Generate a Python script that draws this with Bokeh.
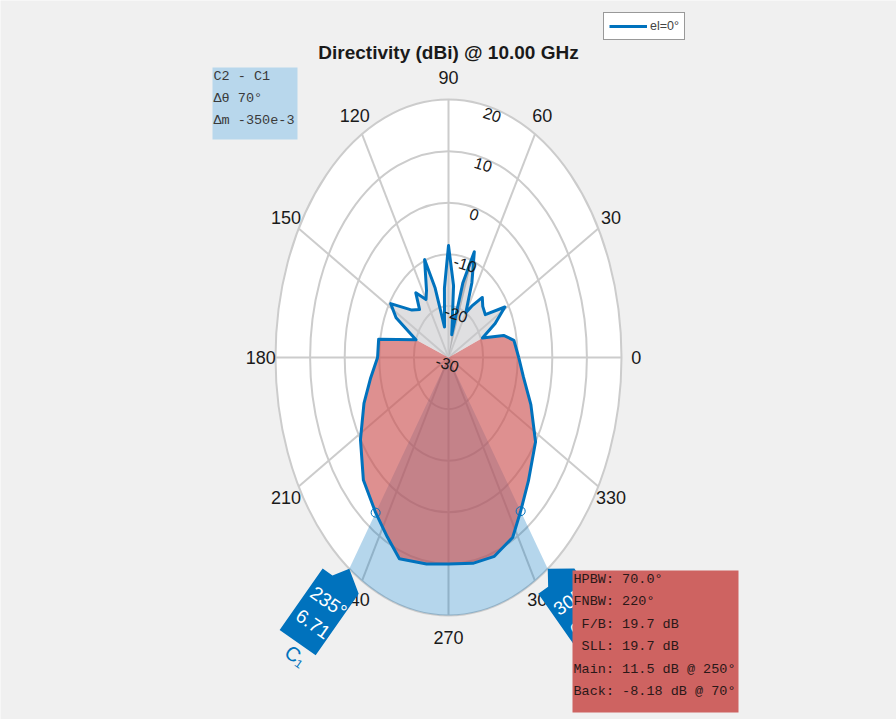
import numpy as np
from bokeh.plotting import figure
from bokeh.models import Label, Legend, LegendItem
from bokeh.core.properties import value
from bokeh.embed import file_html
from bokeh.resources import INLINE

# ---------------- data ----------------
title_text = "Directivity (dBi) @ 10.00 GHz"
series_label = "el=0°"
angle_ticks = [0, 30, 60, 90, 120, 150, 180, 210, 240, 270, 300, 330]
mag_ticks = [-30, -20, -10, 0, 10, 20]
r_min, r_max = -30, 20

pattern_angle = [0, 10, 15, 21, 26, 31, 38, 45, 50, 56, 60, 65, 70, 74, 78, 84, 90,
                 95, 101, 106, 110, 116, 120, 127, 132, 139, 148, 153, 160, 170, 180,
                 190, 200, 212, 224, 235, 243, 250, 261, 270, 280, 289, 298, 305, 314,
                 327, 339, 350, 360]
pattern_db = [-9.7, -10.8, -13.5, -19.5, -15.0, -11.0, -16.5, -16.0, -14.8, -18.0, -20.0,
              -14.0, -8.18, -15.0, -25.5, -16.0, -8.3, -16.5, -24.0, -16.0, -9.8, -15.5,
              -17.0, -14.3, -17.5, -16.0, -10.3, -13.0, -20.0, -9.5, -9.5, -7.15, -4.0,
              0.0, 4.2, 6.71, 9.0, 11.5, 10.5, 10.0, 10.5, 10.75, 9.5, 6.36, 3.25, 0.0,
              -4.5, -8.0, -9.7]

main_lobe_nulls = [160, 21]
back_lobe_span = [70, 78]
hpbw_span = [235, 305]
cursor_angles = [235, 305]
cursor_mags = [6.71, 6.36]
cursor_names = ["C\u2081", "C\u2082"]
delta_lines = ["C2 - C1", "\u0394\u03b8 70\u00b0", "\u0394m -350e-3"]
metric_lines = ["HPBW: 70.0\u00b0", "FNBW: 220\u00b0", " F/B: 19.7 dB", " SLL: 19.7 dB",
                "Main: 11.5 dB @ 250\u00b0", "Back: -8.18 dB @ 70\u00b0"]

# ---------------- layout ----------------
W, H = 896, 719
CX, CY = 448.0, 357.0      # polar centre (px)
RX, RY = 173.0, 258.0      # polar radius (px) horizontally / vertically

SANS_NAME = "Liberation Sans"
SANS = value(SANS_NAME)
MONO = value("Liberation Mono")
BLUE = "#0072BD"
GRID = "#cccccc"


def sx2x(sx):
    return (sx - CX) / RX


def sy2y(sy):
    return (CY - sy) / RY


def to_r(db):
    return (np.clip(np.asarray(db, dtype=float), r_min, r_max) - r_min) / (r_max - r_min)


def pol(theta_deg, r):
    th = np.radians(np.asarray(theta_deg, dtype=float))
    return np.asarray(r) * np.cos(th), np.asarray(r) * np.sin(th)


def keep_spaces(s):
    # SVG collapses leading blanks; use no-break spaces to keep the monospace alignment
    return s.replace(" ", "\u00a0")


p = figure(width=W, height=H, output_backend="svg", toolbar_location=None,
           x_range=(sx2x(0), sx2x(W)), y_range=(sy2y(H), sy2y(0)),
           x_axis_type=None, y_axis_type=None, min_border=0,
           background_fill_color="#f0f0f0", border_fill_color="#f0f0f0",
           outline_line_color=None)
p.grid.visible = False

# white polar disk
p.ellipse(x=0, y=0, width=2, height=2, fill_color="white", line_color=None)

# rings
ring_r = [float(to_r(v)) for v in mag_ticks if v > r_min]
p.ellipse(x=[0] * len(ring_r), y=[0] * len(ring_r), width=[2 * r for r in ring_r],
          height=[2 * r for r in ring_r], fill_color=None, line_color=GRID, line_width=2)
# spokes
sx_, sy_ = pol(angle_ticks, 1.0)
p.segment(x0=[0] * len(angle_ticks), y0=[0] * len(angle_ticks), x1=sx_, y1=sy_,
          line_color=GRID, line_width=2)

# pattern lookup
pat = dict(zip(pattern_angle[:-1], pattern_db[:-1]))

# HPBW wedge
wa = np.arange(hpbw_span[0], hpbw_span[1] + 0.5, 1.0)
wx, wy = pol(wa, 1.0)
p.patch(x=np.r_[0, wx], y=np.r_[0, wy], fill_color=BLUE, fill_alpha=0.29, line_color=None)

# main lobe fill (from null at 160 around through 270 to null at 21)
main_angles = [a for a in pattern_angle[:-1] if a >= main_lobe_nulls[0]] + \
              [a for a in pattern_angle[:-1] if a <= main_lobe_nulls[1]]
mx, my = pol(main_angles, to_r([pat[a] for a in main_angles]))
p.patch(x=np.r_[0, mx], y=np.r_[0, my], fill_color="#cd5555", fill_alpha=0.65, line_color=None)

# side lobes fill
side_angles = [a for a in pattern_angle[:-1] if main_lobe_nulls[1] <= a <= main_lobe_nulls[0]]
gx, gy = pol(side_angles, to_r([pat[a] for a in side_angles]))
p.patch(x=np.r_[0, gx], y=np.r_[0, gy], fill_color="#c4c4c8", fill_alpha=0.55, line_color=None)

# back lobe fill
back_angles = [a for a in pattern_angle[:-1] if back_lobe_span[0] <= a <= back_lobe_span[1]]
bx, by = pol(back_angles, to_r([pat[a] for a in back_angles]))
p.patch(x=np.r_[0, bx], y=np.r_[0, by], fill_color="#8f8f94", fill_alpha=0.55, line_color=None)

# pattern outline
px_, py_ = pol(pattern_angle, to_r(pattern_db))
pat_line = p.line(x=px_, y=py_, line_color=BLUE, line_width=3, line_join="round")

# angle labels
lx, ly = pol(angle_ticks, 1.085)
p.text(x=lx, y=ly, text=[str(a) for a in angle_ticks], text_align="center",
       text_baseline="middle", text_font=SANS, text_font_size="18px", text_color="#1a1a1a")

# magnitude labels
mr = to_r(mag_ticks) - 0.025
mxl, myl = pol([75] * len(mag_ticks), mr)
p.text(x=mxl, y=myl, text=[str(v) for v in mag_ticks], text_align="center",
       text_baseline="middle", text_font=SANS, text_font_size="16px", text_color="#1a1a1a",
       angle=-0.3)

# cursor markers
cmx, cmy = pol(cursor_angles, to_r(cursor_mags))
p.scatter(x=cmx, y=cmy, size=9, fill_color=None, line_color=BLUE, line_width=1)

# cursor flags
flag_local = [(-22, -37), (-10, -37), (0, -52), (22, -37), (22, 38), (-22, 38)]
for ang, mag, name in zip(cursor_angles, cursor_mags, cursor_names):
    th = np.radians(ang)
    P = np.array([CX + RX * np.cos(th), CY - RY * np.sin(th)])
    a = np.radians(ang - 270)
    t = np.array([np.cos(a), -np.sin(a)])
    n = np.array([-t[1], t[0]])
    C0 = P + 52 * n
    pts = [C0 + u * t + v * n for u, v in flag_local]
    p.patch(x=[sx2x(q[0]) for q in pts], y=[sy2y(q[1]) for q in pts],
            fill_color=BLUE, line_color=None)
    tx = [C0 + 2 * t - 13 * n, C0 + 2 * t + 14 * n]
    p.text(x=[sx2x(q[0]) for q in tx], y=[sy2y(q[1]) for q in tx],
           text=[f"{ang}\u00b0", f"{mag}"],
           angle=a, text_align="center", text_baseline="middle", text_font=SANS,
           text_font_size="19px", text_color="white")
    q = C0 + 6 * t + 50 * n
    p.text(x=[sx2x(q[0])], y=[sy2y(q[1])], text=[name], angle=a, text_align="center",
           text_baseline="middle", text_font=SANS, text_font_size="20px", text_color=BLUE)

# title
p.add_layout(Label(x=sx2x(CX), y=sy2y(52), text=title_text, text_align="center",
                   text_baseline="middle", text_font=SANS_NAME, text_font_size="19px",
                   text_font_style="bold", text_color="#1a1a1a"))

# delta info box
p.quad(left=[sx2x(212)], right=[sx2x(297)], top=[sy2y(67)], bottom=[sy2y(139)],
       fill_color="#b8d7ec", line_color=None)
dy = [sy2y(76 + 22 * i) for i in range(len(delta_lines))]
p.text(x=[sx2x(213)] * len(delta_lines), y=dy, text=[keep_spaces(s) for s in delta_lines],
       text_align="left", text_baseline="middle", text_font=MONO, text_font_size="13.5px",
       text_color="#3a3a3a")

# metrics box (drawn over the C2 flag)
p.quad(left=[sx2x(572)], right=[sx2x(738)], top=[sy2y(570)], bottom=[sy2y(712)],
       fill_color="#ce6361", line_color=None)
my_ = [sy2y(579 + 22.4 * i) for i in range(len(metric_lines))]
p.text(x=[sx2x(573)] * len(metric_lines), y=my_, text=[keep_spaces(s) for s in metric_lines],
       text_align="left", text_baseline="middle", text_font=MONO, text_font_size="13.5px",
       text_color="#2a1818")

# legend
legend = Legend(items=[LegendItem(label=series_label, renderers=[pat_line])],
                location=(603, H - 40), label_text_font=SANS_NAME, label_text_font_size="12.5px",
                glyph_width=38, glyph_height=16, padding=5, margin=0, spacing=0,
                label_standoff=3, border_line_color="#333333", border_line_width=1,
                background_fill_color="white", background_fill_alpha=1.0)
p.add_layout(legend)

open("out.html", "w").write(file_html(p, INLINE))
